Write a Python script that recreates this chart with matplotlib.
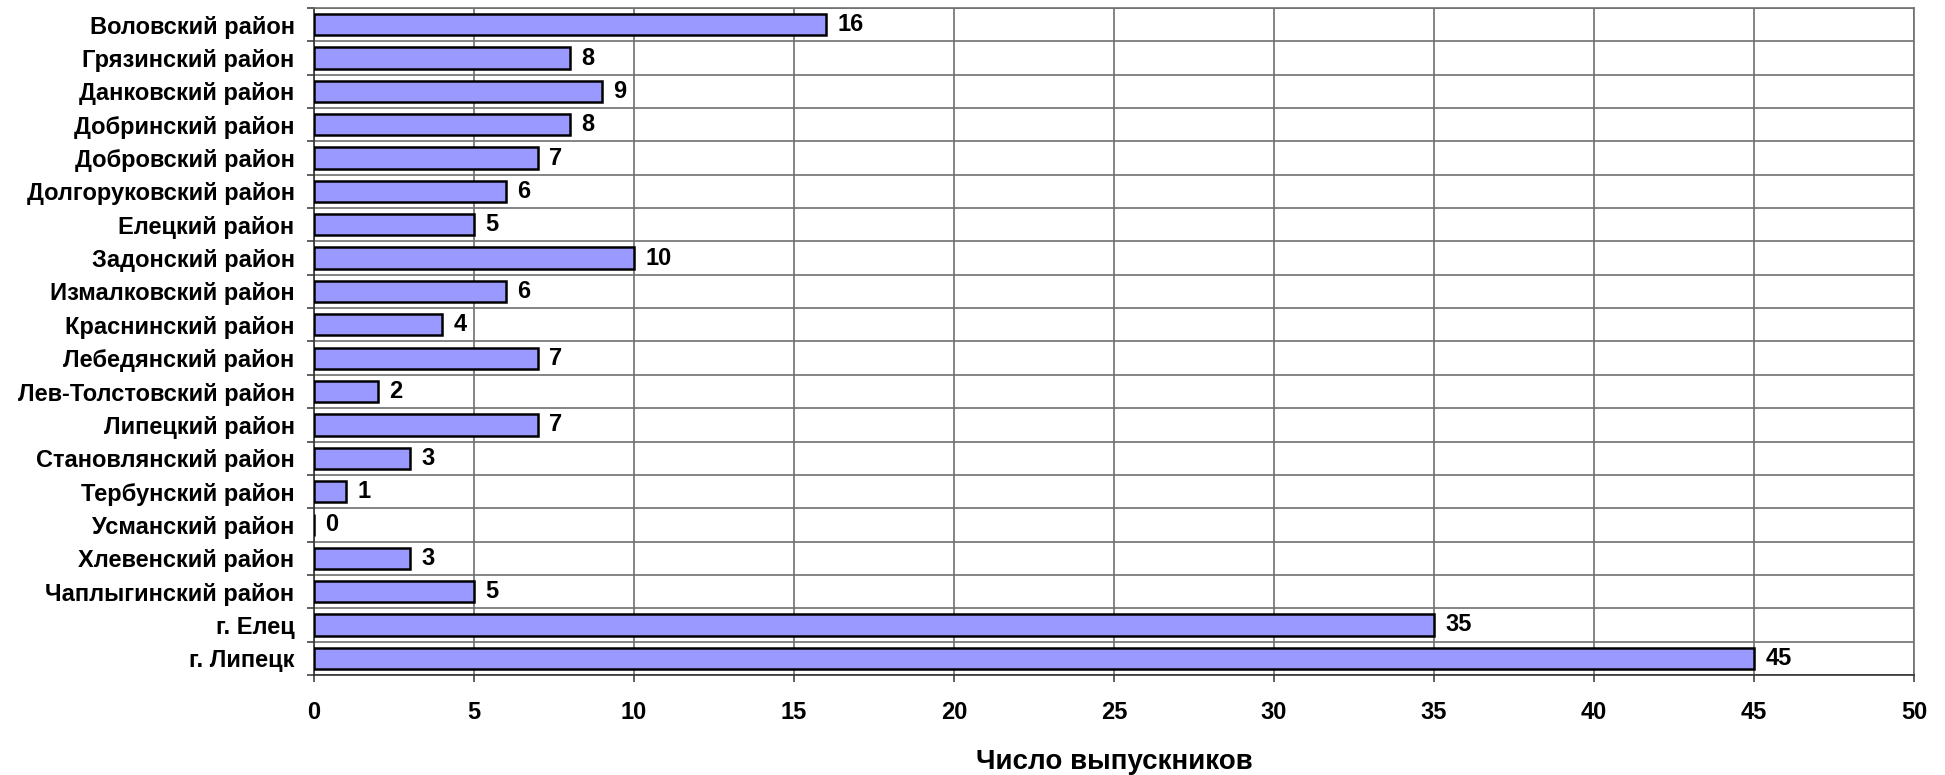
import numpy as np
import matplotlib
matplotlib.use("Agg")
import matplotlib.pyplot as plt

plt.rcParams['font.family'] = ['Liberation Sans', 'DejaVu Sans']
plt.rcParams['font.weight'] = 'bold'

districts = ["Воловский район", "Грязинский район", "Данковский район",
             "Добринский район", "Добровский район", "Долгоруковский район",
             "Елецкий район", "Задонский район", "Измалковский район",
             "Краснинский район", "Лебедянский район", "Лев-Толстовский район",
             "Липецкий район", "Становлянский район", "Тербунский район",
             "Усманский район", "Хлевенский район", "Чаплыгинский район",
             "г. Елец", "г. Липецк"]
graduates = [16, 8, 9, 8, 7, 6, 5, 10, 6, 4, 7, 2, 7, 3, 1, 0, 3, 5, 35, 45]
xticks = [0, 5, 10, 15, 20, 25, 30, 35, 40, 45, 50]

fig = plt.figure(figsize=(19.45, 7.75), dpi=100)
ax = fig.add_axes([314/1945, 1-675/775, 1600/1945, 667/775])

y = np.arange(len(districts))
ax.barh(y, graduates, height=0.64, color='#9999ff', edgecolor='black',
        linewidth=1.8, zorder=3)
for yi, v in zip(y, graduates):
    ax.text(v + 0.35, yi, str(v), va='center', ha='left',
            fontsize=17, fontweight='bold', zorder=4)

ax.set_xlim(0, 50)
ax.set_ylim(len(districts) - 0.5, -0.5)
ax.set_xticks(xticks)
ax.set_yticks(y)
ax.set_yticklabels(districts)
ax.set_yticks(np.arange(len(districts) + 1) - 0.5, minor=True)
ax.tick_params(axis='y', which='major', length=0, pad=14, labelsize=17)
ax.tick_params(axis='y', which='minor', length=5, width=1.2, color='#444444')
ax.tick_params(axis='x', which='major', length=5, width=1.2, color='#444444',
               labelsize=17, pad=14)
ax.grid(True, axis='x', which='major', color='#707070', linewidth=1.2, zorder=0)
ax.grid(True, axis='y', which='minor', color='#707070', linewidth=1.2, zorder=0)
for s in ax.spines.values():
    s.set_color('#707070')
    s.set_linewidth(1.2)
ax.spines['left'].set_color('#333333')
ax.spines['bottom'].set_color('#333333')

ax.set_xlabel('Число выпускников', fontsize=20, fontweight='bold', labelpad=18)

fig.savefig('out.png', dpi=100)
